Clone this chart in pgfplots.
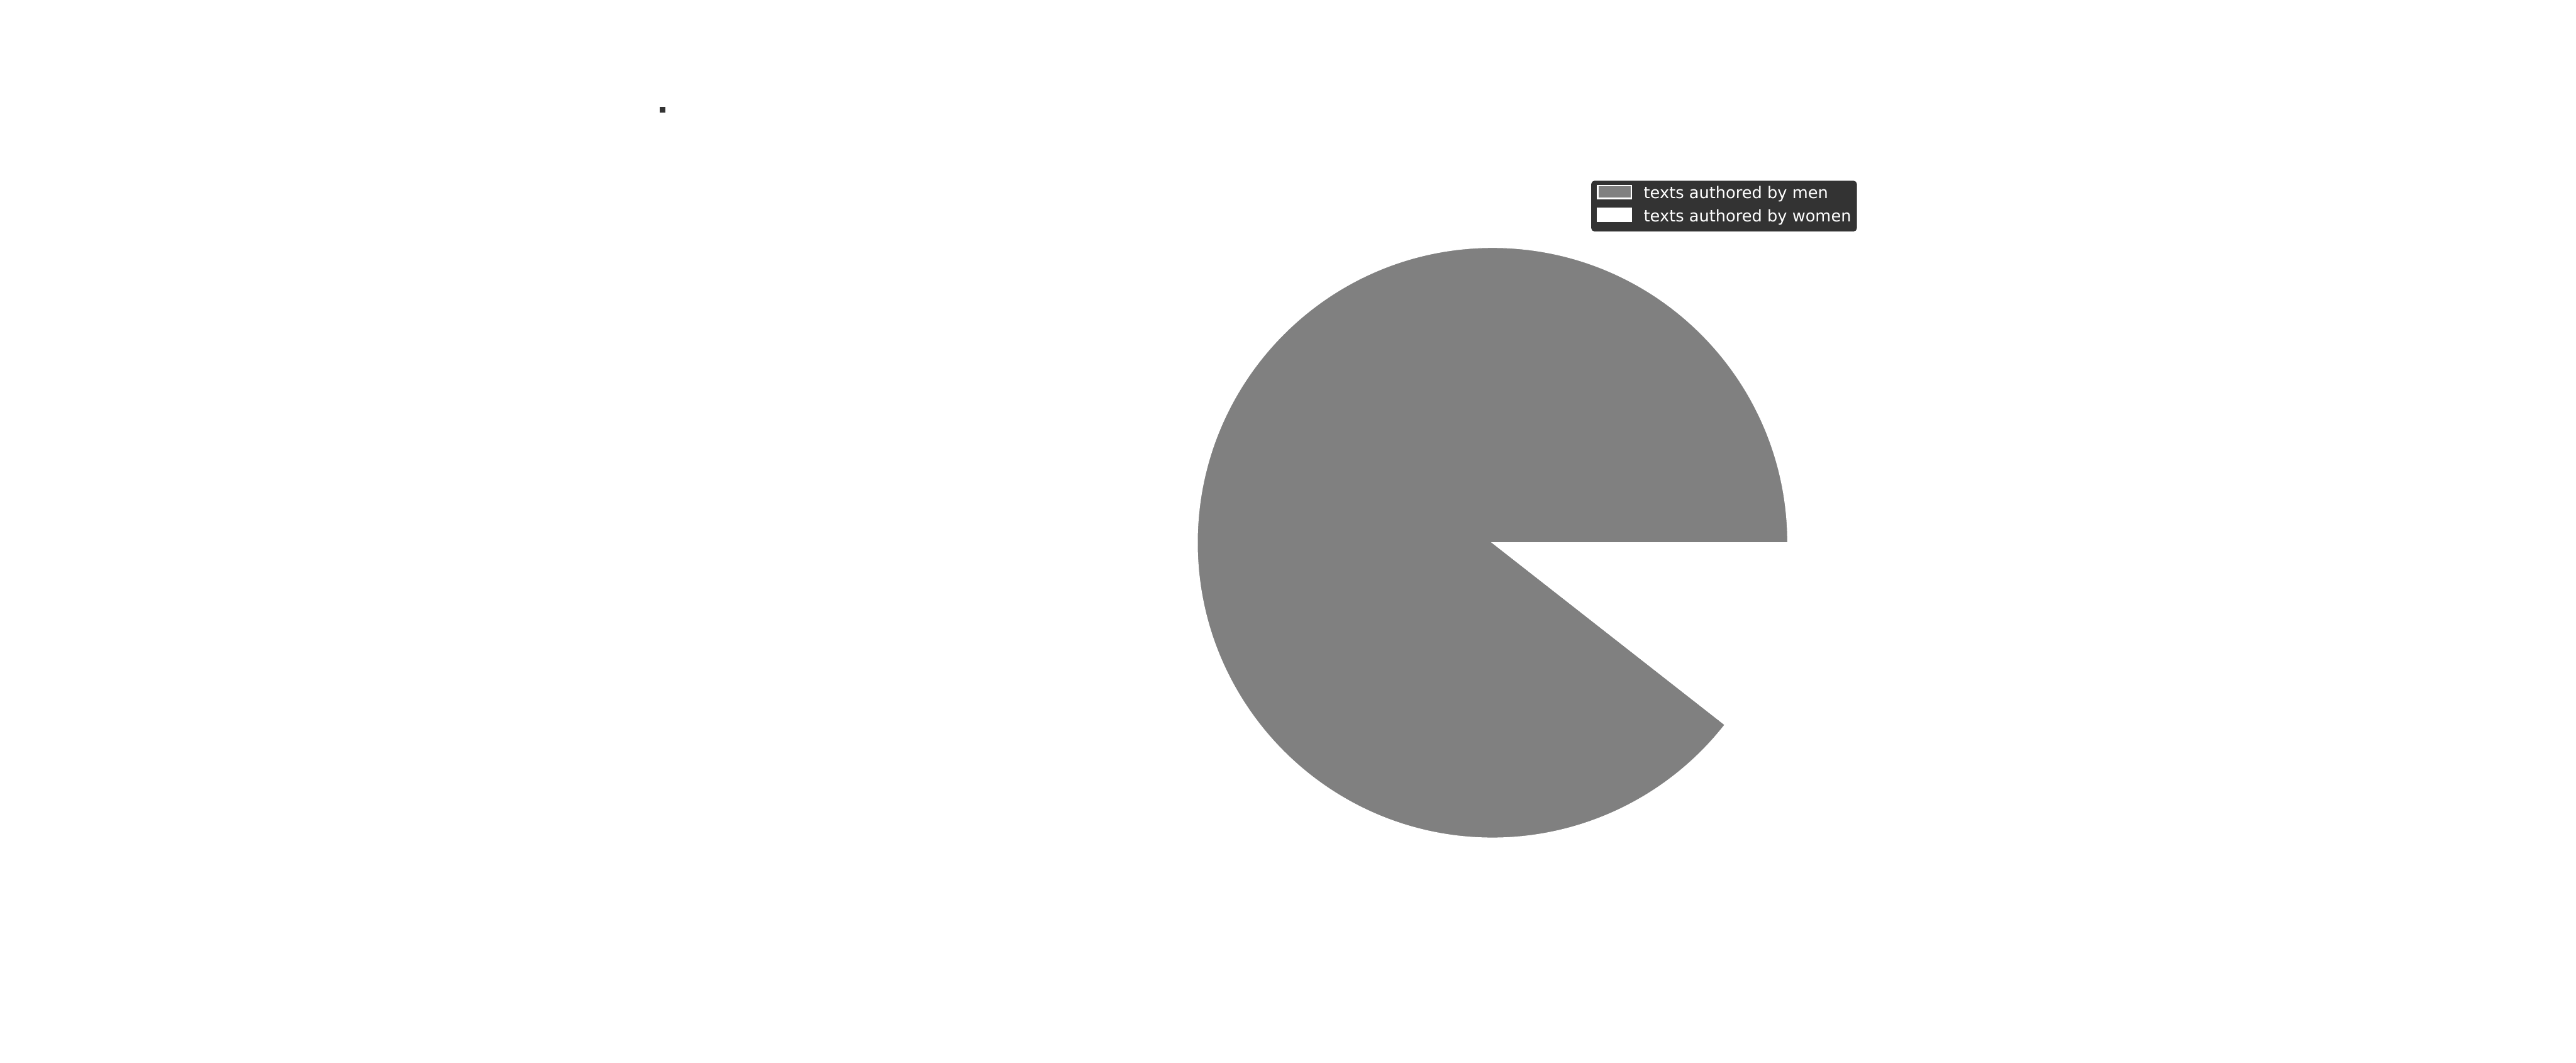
\documentclass[border=0pt]{standalone}
\usepackage{pgfplots}
\pgfplotsset{compat=1.18}
\usepackage{fontspec}
\setmainfont{DejaVu Sans}
\definecolor{legbg}{HTML}{333333}
\definecolor{piegray}{HTML}{808080}
% shares of texts (percent)
\def\menval{89.43}
\def\womenval{10.57}
\begin{document}%
\begin{tikzpicture}
\pgfmathsetmacro\angA{\menval/(\menval+\womenval)*360}
\pgfmathsetmacro\cA{cos(\angA)}
\pgfmathsetmacro\sA{sin(\angA)}
\begin{axis}[
  name=pie,
  scale only axis,
  width=957.4pt, height=395pt,
  xmin=-5.0565, xmax=3.6709,
  ymin=-1.7621, ymax=1.8386,
  hide axis,
  clip=false,
  legend cell align=left,
  legend style={
    at={(axis cs:0.3346,1.2261)}, anchor=north west,
    fill=legbg, draw=legbg, rounded corners=1pt,
    text=white, font=\fontsize{6}{7}\selectfont,
    inner xsep=1.9pt, inner ysep=1.25pt,
    row sep=1.2pt,
    column sep=4.3pt,
    nodes={inner sep=0pt, text height=3.9pt, text depth=2.2pt},
  },
]
\fill[piegray, draw=white, line width=0.3pt] (axis cs:0,0) -- (axis cs:1,0) arc[start angle=0, end angle=\angA, radius=1] -- cycle;
\fill[white, draw=white, line width=0.3pt] (axis cs:0,0) -- (axis cs:\cA,\sA) arc[start angle=\angA, end angle=360, radius=1] -- cycle;
\addplot[only marks, mark=square*, mark size=0.8pt, color=legbg, forget plot] coordinates {(-2.812,1.467)};
\addlegendimage{legend image code/.code={\draw[fill=piegray, draw=white, line width=0.6pt, sharp corners] (0pt,-0.8pt) rectangle (12.5pt,4pt);}}
\addlegendentry{texts authored by men}
\addlegendimage{legend image code/.code={\draw[fill=white, draw=white, line width=0.6pt, sharp corners] (0pt,-0.8pt) rectangle (12.5pt,4pt);}}
\addlegendentry{texts authored by women}
\end{axis}
\pgfresetboundingbox
\useasboundingbox (pie.south west) rectangle (pie.north east);
\end{tikzpicture}%
\end{document}
